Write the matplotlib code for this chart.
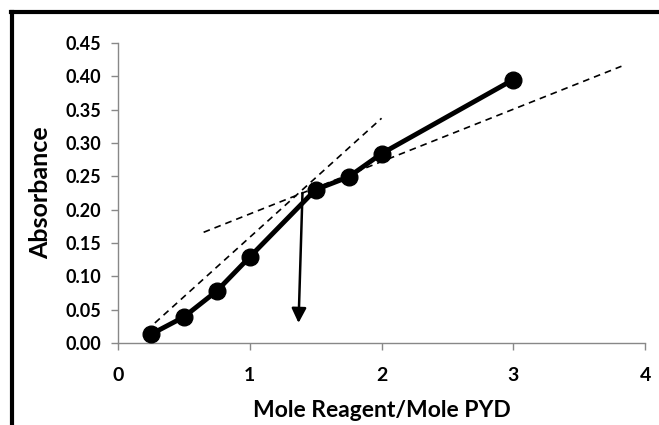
import matplotlib
matplotlib.use("Agg")
from matplotlib import pyplot as plt
from matplotlib.lines import Line2D

# Data
mole_ratio = [0.25, 0.5, 0.75, 1.0, 1.5, 1.75, 2.0, 3.0]
absorbance = [0.013, 0.039, 0.078, 0.129, 0.230, 0.249, 0.284, 0.395]

# tangent lines (start / end)
steep_x = [0.28, 2.0]
steep_y = [0.030, 0.337]
shallow_x = [0.65, 3.82]
shallow_y = [0.166, 0.415]

# arrow marking the break point
arrow_start = (1.40, 0.225)
arrow_end = (1.37, 0.030)

x_ticks = [0, 1, 2, 3, 4]
y_ticks = [0.00, 0.05, 0.10, 0.15, 0.20, 0.25, 0.30, 0.35, 0.40, 0.45]

plt.rcParams['font.family'] = ['Lato', 'DejaVu Sans']

fig = plt.figure(figsize=(6.59, 4.25), dpi=100)
ax = fig.add_axes([0.179, 0.193, 0.800, 0.706])

ax.plot(steep_x, steep_y, color="black", linestyle=(0, (4, 3)), linewidth=1.2)
ax.plot(shallow_x, shallow_y, color="black", linestyle=(0, (4, 3)), linewidth=1.2)

ax.plot(mole_ratio, absorbance, color="black", linewidth=3.5, marker="o",
        markersize=12, zorder=3)

ax.annotate("", xy=arrow_end, xytext=arrow_start,
            arrowprops=dict(arrowstyle="-|>", color="black", lw=1.8,
                            mutation_scale=22, shrinkA=0, shrinkB=0))

ax.set_xlim(0, 4)
ax.set_ylim(0, 0.45)
ax.set_xticks(x_ticks)
ax.set_yticks(y_ticks)
ax.set_xticklabels([str(t) for t in x_ticks])
ax.set_yticklabels([f"{t:.2f}" for t in y_ticks])

for side in ["top", "right"]:
    ax.spines[side].set_visible(False)
for side in ["left", "bottom"]:
    ax.spines[side].set_color("#888888")
    ax.spines[side].set_linewidth(1.0)

ax.tick_params(axis="both", direction="out", color="#888888", length=5, width=1.0)
ax.tick_params(axis="y", labelsize=13, pad=7)
ax.tick_params(axis="x", labelsize=14, pad=12)
for lab in ax.get_xticklabels() + ax.get_yticklabels():
    lab.set_fontweight("bold")

ax.set_xlabel("Mole Reagent/Mole PYD", fontsize=16.5, fontweight="bold", labelpad=12)
ax.set_ylabel("Absorbance", fontsize=18, fontweight="bold", labelpad=10)

# black frame around the figure (open at the bottom and right edges)
fig.add_artist(Line2D([12 / 659, 12 / 659], [0, 1 - 12 / 425],
                      transform=fig.transFigure, color="black", linewidth=3))
fig.add_artist(Line2D([11 / 659, 1], [1 - 12 / 425, 1 - 12 / 425],
                      transform=fig.transFigure, color="black", linewidth=3))

fig.savefig("out.png", dpi=100)
